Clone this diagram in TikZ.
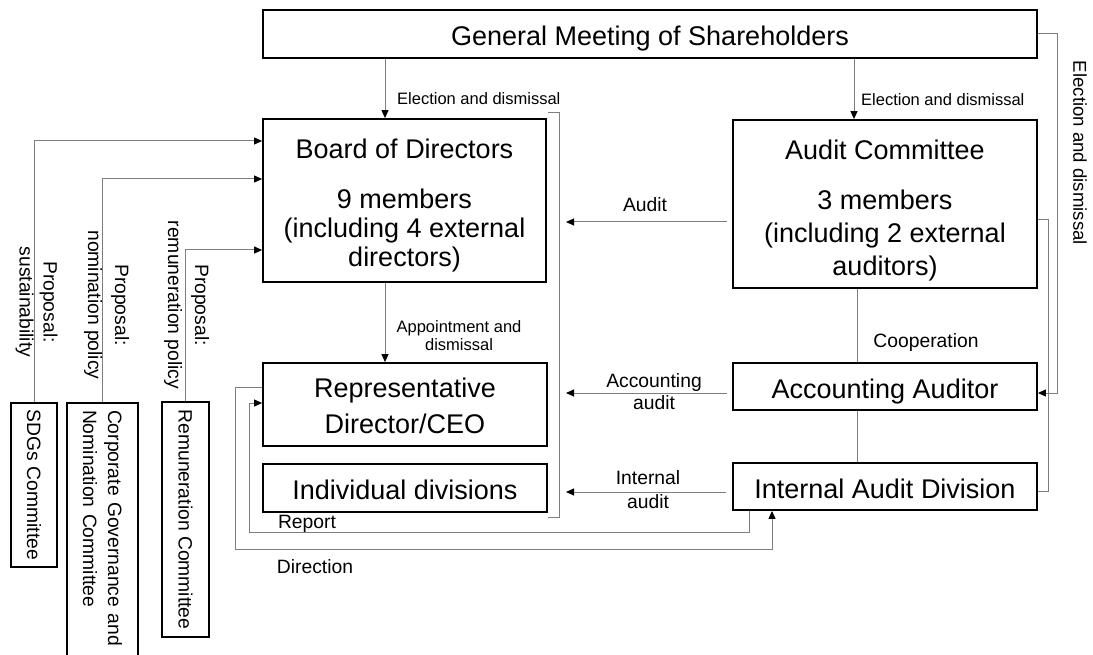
\documentclass[tikz,border=0pt]{standalone}
\usepackage{fontspec}
\setmainfont{Liberation Sans}
\usetikzlibrary{arrows.meta,calc}
\definecolor{linec}{RGB}{125,125,125}
\newcommand\fbig{\fontsize{27}{29}\selectfont}
\newcommand\fmed{\fontsize{19.3}{24}\selectfont}
\newcommand\fsml{\fontsize{16.5}{18}\selectfont}
\begin{document}
\begin{tikzpicture}[x=1pt,y=-1pt,
  box/.style={draw=black,line width=1.8pt,inner sep=0pt,align=center,font=\fbig},
  onel/.style={text height=25pt,text depth=2pt},
  cbox/.style={draw=black,line width=1.8pt,inner sep=0pt,align=center,font={\fontsize{19.3}{25}\selectfont}},
  conn/.style={draw=linec,line width=1pt},
  arr/.style={conn,-{Triangle[length=8pt,width=7pt,color=black]}},
  lab/.style={inner sep=0pt,font=\fmed},
  slab/.style={inner sep=0pt,font=\fsml}]
\useasboundingbox (0,0) rectangle (1093,655);
\fill[white] (0,0) rectangle (1093,655);

% main boxes
\node[box,onel,minimum width=774pt,minimum height=48pt] (gm) at (650,34) {General Meeting of Shareholders};
\node[box,minimum width=283pt,minimum height=163pt] (bod) at (404.5,200.5)
  {\rule{0pt}{29pt}Board of Directors\\[21pt]9 members\\(including 4 external\\directors)};
\node[box,minimum width=304pt,minimum height=168pt,font={\fontsize{27}{33}\selectfont}] (ac) at (885,204)
  {\rule{0pt}{32pt}Audit Committee\\[17pt]3 members\\(including 2 external\\auditors)};
\node[box,minimum width=284pt,minimum height=83pt,font={\fontsize{27}{36}\selectfont}] (rd) at (405,404.5)
  {\rule{0pt}{22pt}Representative\\Director/CEO};
\node[box,onel,minimum width=284pt,minimum height=48pt] (id) at (405,488) {Individual divisions};
\node[box,onel,minimum width=304pt,minimum height=47pt] (aa) at (885,386.5) {Accounting Auditor};
\node[box,onel,minimum width=304pt,minimum height=47pt] (iad) at (885,486.5) {Internal Audit Division};

% committees (rotated)
\node[cbox,rotate=-90,minimum width=164pt,minimum height=46pt] (sdg) at (34,485) {SDGs Committee};
\node[cbox,rotate=-90,minimum width=262pt,minimum height=71pt,text width=248pt,align=left] (cg) at (102.5,534)
  {Corporate Governance and\\Nomination Committee};
\node[cbox,rotate=-90,minimum width=235pt,minimum height=47pt] (rem) at (185.5,519.5) {Remuneration Committee};

% helper coordinates
\coordinate (ySDG) at (0,141);
\coordinate (yCG) at (0,179);
\coordinate (yREM) at (0,250);
\coordinate (xL) at (385,0);
\coordinate (xR) at (854,0);
\coordinate (xC) at (857,0);
\coordinate (tA) at (566,222);
\coordinate (tB) at (566,393);
\coordinate (tC) at (566,492);
\coordinate (brT) at (548,113);
\coordinate (brB) at (548,517);
\coordinate (yDir) at (0,387);
\coordinate (xDirL) at (235,0);
\coordinate (yDirB) at (0,549);
\coordinate (xDirR) at (772,0);
\coordinate (xRepR) at (749,0);
\coordinate (yRepB) at (0,532);
\coordinate (xRepL) at (249,0);
\coordinate (yRep) at (0,403);

% proposals
\draw[arr] (sdg.west) |- (bod.west |- ySDG);
\draw[arr] (cg.west) |- (bod.west |- yCG);
\draw[arr] (rem.west) |- (bod.west |- yREM);
\node[lab,rotate=-90,align=center,font={\fontsize{19.3}{24}\selectfont}] (lsdg) at (36.5,302) {Proposal:\\sustainability};
\node[lab,rotate=-90,align=center,font={\fontsize{19.3}{27}\selectfont}] (lcg) at (106.5,305) {Proposal:\\nomination policy};
\node[lab,rotate=-90,align=center,font={\fontsize{19.3}{27}\selectfont}] (lrem) at (186.5,305) {Proposal:\\remuneration policy};

% elections
\draw[arr] (xL |- gm.south) -- (xL |- bod.north);
\draw[arr] (xR |- gm.south) -- (xR |- ac.north);
\node[slab,anchor=west] (lel1) at (397,99) {Election and dismissal};
\node[slab,anchor=west] (lel2) at (861,100) {Election and dismissal};
\draw[arr] (xL |- bod.south) -- (xL |- rd.north);
\node[slab,align=center] (lapp) at (459,336) {Appointment and\\dismissal};

% right side
\draw[arr] (gm.east) -- ++(20,0) |- ($(aa.east)+(0,6.5)$);
\draw[conn] ($(ac.east)+(0,16)$) -- ++(11,0) |- ($(iad.east)+(0,5)$);
\node[lab,rotate=-90,font={\fontsize{18.6}{22}\selectfont}] (lel3) at (1080,153) {Election and dismissal};

% bracket
\draw[conn] (brT) -- ++(11,0) |- (brB);

% audits
\draw[arr,shorten <=5pt] (ac.west |- tA) -- (tA);
\node[lab] (laud) at (645,205) {Audit};
\draw[arr,shorten <=5pt] (aa.west |- tB) -- (tB);
\node[lab,align=center,font={\fontsize{19.3}{22}\selectfont}] (lacc) at (654,392) {Accounting\\audit};
\draw[arr,shorten <=6pt] (iad.west |- tC) -- (tC);
\node[lab,align=center,font={\fontsize{19.3}{24}\selectfont}] (lint) at (648,490) {Internal\\audit};

% cooperation
\draw[conn] (xC |- ac.south) -- (xC |- aa.north);
\draw[conn] (xC |- aa.south) -- (xC |- iad.north);
\node[lab] (lcoop) at (926,343) {Cooperation};

% direction and report
\draw[arr] (rd.west |- yDir) -| (xDirL |- yDirB) -| (xDirR |- iad.south);
\draw[arr] (xRepR |- iad.south) |- (xRepL |- yRepB) |- (rd.west |- yRep);
\node[lab] (lrep) at (307,524) {Report};
\node[lab] (ldir) at (315,567) {Direction};
\end{tikzpicture}
\end{document}
